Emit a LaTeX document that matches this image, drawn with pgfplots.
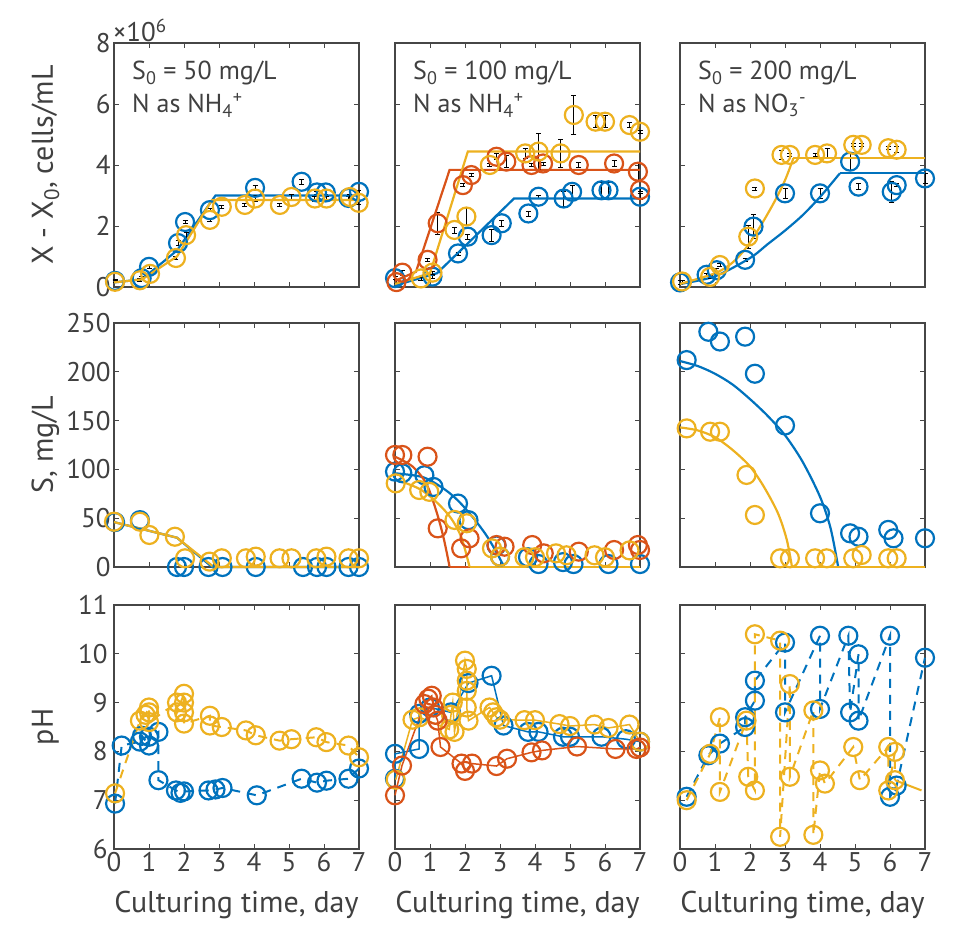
\documentclass[border=0pt]{standalone}
\usepackage{fontspec}
\setmainfont{PT Sans}
\usepackage{pgfplots}
\pgfplotsset{compat=1.18}
\definecolor{mblue}{RGB}{0,114,189}
\definecolor{mred}{RGB}{217,83,25}
\definecolor{myel}{RGB}{237,177,32}
\definecolor{axgray}{RGB}{70,70,70}
\definecolor{txtgray}{RGB}{64,64,64}
\tikzset{ptxt/.style={anchor=north west, align=left, font=\fontsize{26}{33}\selectfont, text=txtgray}}
\pgfplotsset{
  panel/.style={
    scale only axis, width=245pt, height=244pt,
    anchor=south west,
    xmin=0, xmax=7, xtick={0,1,...,7},
    axis line style={axgray, line width=1.3pt},
    tick style={axgray, line width=0.9pt},
    major tick length=5pt,
    tick align=inside,
    clip=false,
    ticklabel style={font=\fontsize{27}{29}\selectfont, text=txtgray},
    /pgf/number format/assume math mode=true,
    every axis y label/.style={at={(axis description cs:-0.28,0.5)}, rotate=90, anchor=center, font=\fontsize{30}{32}\selectfont, text=txtgray},
    every axis x label/.style={at={(axis description cs:0.5,0)}, anchor=center, yshift=-56pt, font=\fontsize{30}{32}\selectfont, text=txtgray},
  },
  mk/.style={only marks, mark=o, color=#1, mark size=9pt, mark options={line width=2.2pt, solid}},
  ebar/.style={error bars/.cd, y dir=both, y explicit, error bar style={black, line width=0.8pt, solid}, error mark options={black, rotate=90, mark size=2.5pt, line width=0.8pt}},
  fit/.style={no marks, line width=2.2pt, color=#1},
  phd/.style={mark=o, color=#1, line width=2pt, dash pattern=on 9pt off 7pt, mark size=9pt, mark options={solid, line width=2.2pt}},
  phs/.style={mark=o, color=#1, line width=1.5pt, mark size=9pt, mark options={solid, line width=2.2pt}},
}
\begin{document}
\begin{tikzpicture}
\useasboundingbox (0,0) rectangle (963pt,928pt);
% ---------------- Row 1 ----------------
\begin{axis}[panel, at={(114pt,641pt)}, ymin=0, ymax=8, ytick={0,2,4,6,8}, xticklabels={}, ylabel={X - X\textsubscript{0}, cells/mL}]
\addplot[mk=mblue, ebar] table[y error index=2] {
0.03 0.2 0.05
0.79 0.29 0.05
1.0 0.66 0.05
1.83 1.44 0.08
2.03 2.13 0.05
2.74 2.52 0.05
4.03 3.25 0.08
5.36 3.45 0.08
5.8 3.1 0.05
6.05 3.1 0.08
6.7 2.92 0.05
7.0 3.12 0.05
};
\addplot[fit=mblue] coordinates {(0,0.15) (0.8,0.25) (1.8,1.2) (2.9,3.0) (7,3.0)};
\addplot[mk=myel, ebar] table[y error index=2] {
0.03 0.17 0.03
0.74 0.22 0.05
1.03 0.43 0.05
1.77 0.95 0.05
2.06 1.7 0.1
2.74 2.2 0.05
3.08 2.63 0.05
3.74 2.69 0.05
4.03 2.9 0.1
4.74 2.69 0.05
5.07 2.95 0.1
5.74 2.9 0.08
6.07 2.9 0.08
6.74 2.95 0.08
6.99 2.76 0.05
};
\addplot[fit=myel] coordinates {(0,0.15) (0.8,0.25) (1.8,1.0) (2.8,2.85) (7,2.85)};
\node[ptxt] at (rel axis cs:0.06,0.94) {S\textsubscript{0} = 50 mg/L\\N as NH\textsubscript{4}\textsuperscript{+}};
\node[anchor=south west, font=\fontsize{27}{29}\selectfont, text=txtgray, inner sep=1pt] at (rel axis cs:-0.01,1.0) {×10\textsuperscript{6}};
\end{axis}

\begin{axis}[panel, at={(395pt,641pt)}, ymin=0, ymax=8, ytick={0,2,4,6,8}, xticklabels={}, yticklabels={}]
\addplot[mk=mblue, ebar] table[y error index=2] {
0.0 0.29 0.05
1.07 0.34 0.05
1.8 1.1 0.05
2.08 1.65 0.08
2.76 1.7 0.2
3.05 2.09 0.1
3.81 2.41 0.08
4.1 2.96 0.05
4.82 2.9 0.25
5.06 3.12 0.2
5.9 3.17 0.25
6.1 3.17 0.25
7.0 2.96 0.1
};
\addplot[fit=mblue] coordinates {(0,0.05) (1.2,0.45) (3.4,2.9) (7,2.9)};
\addplot[mk=mred, ebar] table[y error index=2] {
0.04 0.16 0.05
0.21 0.47 0.08
0.93 0.89 0.05
1.22 2.09 0.35
1.94 3.34 0.05
2.18 3.67 0.05
2.9 4.27 0.1
3.18 4.11 0.2
3.9 4.0 0.05
4.23 4.05 0.05
5.25 4.0 0.08
6.26 4.05 0.1
6.94 3.78 0.3
7.0 3.18 0.05
};
\addplot[fit=mred] coordinates {(0,0.2) (0.6,0.5) (1.56,3.84) (7,3.84)};
\addplot[mk=myel, ebar] table[y error index=2] {
0.74 0.28 0.05
1.07 0.47 0.05
1.7 1.87 0.1
2.04 2.31 0.3
2.71 4.0 0.05
3.72 4.38 0.15
4.1 4.44 0.6
4.73 4.38 0.45
5.11 5.64 0.65
5.73 5.42 0.2
6.0 5.42 0.2
6.7 5.31 0.08
7.0 5.09 0.05
};
\addplot[fit=myel] coordinates {(0,0.1) (1.0,0.45) (2.08,4.44) (7,4.44)};
\node[ptxt] at (rel axis cs:0.06,0.94) {S\textsubscript{0} = 100 mg/L\\N as NH\textsubscript{4}\textsuperscript{+}};
\end{axis}

\begin{axis}[panel, at={(680pt,641pt)}, ymin=0, ymax=8, ytick={0,2,4,6,8}, xticklabels={}, yticklabels={}]
\addplot[mk=mblue, ebar] table[y error index=2] {
0.0 0.15 0.05
0.76 0.4 0.05
1.05 0.55 0.05
1.86 0.89 0.05
2.1 1.98 0.4
3.0 3.07 0.15
4.0 3.07 0.15
4.86 4.11 0.3
5.1 3.29 0.1
6.05 3.12 0.35
6.19 3.34 0.05
7.0 3.56 0.15
};
\addplot[fit=mblue, smooth] coordinates {(0,0.1) (1,0.35) (2,0.95) (2.5,1.4) (3,1.85) (3.5,2.35) (4,2.95) (4.57,3.73)};
\addplot[fit=mblue] coordinates {(4.57,3.73) (7,3.73)};
\addplot[mk=myel, ebar] table[y error index=2] {
0.06 0.18 0.05
0.86 0.33 0.05
1.14 0.72 0.05
1.95 1.65 0.38
2.14 3.23 0.05
2.9 4.33 0.15
3.14 4.33 0.05
3.86 4.33 0.05
4.2 4.38 0.15
4.95 4.66 0.05
5.19 4.66 0.05
5.95 4.55 0.05
6.19 4.5 0.1
};
\addplot[fit=myel, smooth] coordinates {(0,0.1) (1,0.45) (1.5,0.8) (1.9,1.3) (2.3,2.0) (2.7,2.8) (3.0,3.5) (3.24,4.22)};
\addplot[fit=myel] coordinates {(3.24,4.22) (7,4.22)};
\node[ptxt] at (rel axis cs:0.06,0.94) {S\textsubscript{0} = 200 mg/L\\N as NO\textsubscript{3}\textsuperscript{-}};
\end{axis}

% ---------------- Row 2 ----------------
\begin{axis}[panel, at={(114pt,361pt)}, ymin=0, ymax=250, ytick={0,50,...,250}, xticklabels={}, ylabel={S, mg/L}]
\addplot[mk=mblue] coordinates {(0.03,46) (0.74,48) (1.8,0) (2.0,0) (2.7,0) (3.1,0) (4.05,0) (5.4,0) (5.8,0) (6.07,0) (6.7,0) (7.0,0)};
\addplot[fit=mblue] coordinates {(0,46) (1.8,30) (2.8,0) (7,0)};
\addplot[mk=myel] coordinates {(0.0,46.4) (0.74,46.4) (1.01,32.8) (1.74,31) (2.03,8.9) (2.73,5.5) (3.08,8.9) (3.77,8.9) (4.05,10.6) (4.73,8.9) (5.07,8.9) (5.78,8.9) (6.07,10.6) (6.7,8.9) (7.0,8.9)};
\addplot[fit=myel] coordinates {(0,46) (1.8,30) (2.85,0) (7,0)};
\end{axis}

\begin{axis}[panel, at={(395pt,361pt)}, ymin=0, ymax=250, ytick={0,50,...,250}, xticklabels={}, yticklabels={}]
\addplot[mk=mblue] coordinates {(0.0,97.7) (0.21,96) (0.84,94) (1.1,82) (1.8,65) (2.1,48) (2.9,22) (3.0,10.6) (3.8,10) (4.1,3) (4.8,5) (5.1,3) (6.1,3) (7.0,3)};
\addplot[fit=mblue, smooth] coordinates {(0,96) (0.8,92) (1.4,80) (1.8,68) (2.2,52) (2.6,33) (2.9,15) (3.12,0)};
\addplot[fit=mblue] coordinates {(3.12,0) (7,0)};
\addplot[mk=mred] coordinates {(0,114.8) (0.21,114.8) (0.93,113) (1.22,39.6) (1.89,19.1) (2.13,29.4) (2.9,22.5) (3.13,20.8) (3.92,22.5) (4.25,14) (5.25,15.7) (6.26,17.4) (6.94,22.5) (7.0,17.4)};
\addplot[fit=mred, smooth] coordinates {(0,113) (0.5,103) (0.9,85) (1.2,55) (1.4,28) (1.56,0)};
\addplot[fit=mred] coordinates {(1.56,0) (7,0)};
\addplot[mk=myel] coordinates {(0.02,85.7) (0.69,78.9) (0.98,77) (1.7,48.2) (2.05,44.8) (2.77,19.1) (3.0,10.6) (3.7,10) (4.0,10) (4.6,14) (4.9,12) (5.7,12) (6.0,10) (6.7,17)};
\addplot[fit=myel, smooth] coordinates {(0,90) (0.7,80) (1.2,66) (1.6,50) (1.9,30) (2.13,0)};
\addplot[fit=myel] coordinates {(2.13,0) (7,0)};
\end{axis}

\begin{axis}[panel, at={(680pt,361pt)}, ymin=0, ymax=250, ytick={0,50,...,250}, xticklabels={}, yticklabels={}]
\addplot[mk=mblue] coordinates {(0.19,212) (0.81,241) (1.14,231) (1.86,236) (2.14,198) (3.0,145) (4.0,55) (4.86,34.5) (5.1,31) (5.95,38) (6.1,29.4) (7.0,29.4)};
\addplot[fit=mblue, smooth] coordinates {(0,211) (0.5,206) (1,198) (1.5,187) (2,172) (2.5,155) (3,135) (3.5,108) (4,72) (4.3,40) (4.52,0)};
\addplot[fit=mblue] coordinates {(4.52,0) (7,0)};
\addplot[mk=myel] coordinates {(0.19,142) (0.86,138.6) (1.14,138.6) (1.9,94.3) (2.14,53.3) (2.86,8.9) (3.14,8.9) (3.86,8.9) (4.19,8.9) (4.95,8.9) (5.19,12.3) (5.95,8.9) (6.19,8.9)};
\addplot[fit=myel, smooth] coordinates {(0,143) (0.5,140) (1,133) (1.5,120) (2,103) (2.4,82) (2.8,55) (3.05,28) (3.2,0)};
\addplot[fit=myel] coordinates {(3.2,0) (7,0)};
\end{axis}

% ---------------- Row 3 ----------------
\begin{axis}[panel, at={(114pt,79pt)}, ymin=6, ymax=11, ytick={6,7,...,11}, ylabel={pH}, xlabel={Culturing time, day}, yticklabel style={xshift=-3pt}]
\addplot[phd=mblue] coordinates {(0.03,6.93) (0.22,8.12) (0.74,8.2) (0.8,8.32) (1.0,8.12) (1.0,8.3) (1.27,8.4) (1.27,7.41) (1.77,7.2) (1.9,7.15) (2.0,7.18) (2.7,7.2) (2.9,7.22) (3.1,7.25) (4.08,7.1) (5.36,7.44) (5.8,7.36) (6.07,7.4) (6.7,7.44) (7.0,7.65)};
\addplot[phd=myel] coordinates {(0.03,7.14) (0.74,8.63) (0.9,8.75) (1.0,8.9) (1.0,8.8) (1.0,8.6) (1.8,9.0) (1.8,8.8) (2.0,9.18) (2.0,9.0) (2.0,8.8) (2.0,8.57) (2.74,8.73) (2.74,8.53) (3.08,8.5) (3.77,8.43) (4.05,8.33) (4.73,8.22) (5.07,8.25) (5.78,8.29) (6.07,8.19) (6.7,8.12) (7.0,7.88)};
\end{axis}

\begin{axis}[panel, at={(395pt,79pt)}, ymin=6, ymax=11, ytick={6,7,...,11}, yticklabels={}, xlabel={Culturing time, day}]
\addplot[phs=mblue] coordinates {(0.0,7.44) (0.0,7.95) (0.69,8.05) (0.69,8.77) (1.0,8.9) (1.6,8.8) (2.1,9.4) (2.76,9.55) (3.1,8.53) (3.8,8.4) (4.1,8.4) (4.8,8.3) (5.0,8.3) (5.9,8.3) (6.6,8.25) (7.0,8.2)};
\addplot[phs=myel] coordinates {(0.02,7.42) (0.5,8.65) (0.7,8.7) (1.55,8.45) (1.6,8.75) (1.65,9.0) (1.7,8.4) (2.0,9.86) (2.05,9.69) (2.05,9.45) (2.05,9.24) (2.05,8.9) (2.1,8.63) (2.7,8.9) (2.8,8.8) (2.9,8.7) (3.0,8.65) (3.7,8.64) (4.0,8.64) (4.7,8.56) (5.0,8.52) (5.7,8.55) (6.1,8.48) (6.7,8.55) (7.0,8.2)};
\addplot[phs=mred] coordinates {(0.0,7.1) (0.2,7.71) (0.84,8.97) (0.95,9.08) (1.05,9.14) (1.1,8.9) (1.15,8.75) (1.22,8.63) (1.3,8.09) (1.9,7.75) (2.0,7.6) (2.2,7.75) (2.9,7.7) (3.2,7.85) (3.9,7.98) (4.2,8.02) (5.2,8.1) (6.3,8.05) (6.9,8.05) (7.0,8.08)};
\end{axis}

\begin{axis}[panel, at={(680pt,79pt)}, ymin=6, ymax=11, ytick={6,7,...,11}, yticklabels={}, xlabel={Culturing time, day}]
\addplot[phd=mblue] coordinates {(0.19,7.07) (0.81,7.92) (1.14,8.16) (1.86,8.5) (1.86,8.7) (2.14,9.04) (2.14,9.45) (3.0,10.23) (3.0,8.8) (4.0,10.37) (4.0,8.87) (4.81,10.37) (4.86,8.8) (5.1,9.99) (5.1,8.63) (6.0,10.37) (6.0,7.07) (6.19,7.3) (7.0,9.92)};
\addplot[phd=myel] coordinates {(0.19,7.0) (0.86,7.95) (1.14,8.7) (1.14,7.17) (1.9,8.63) (1.95,7.48) (2.14,7.2) (2.14,10.4) (2.86,10.27) (2.86,6.25) (3.14,9.38) (3.14,7.48) (3.81,8.84) (3.81,6.29) (4.0,7.61) (4.14,7.34) (4.95,8.09) (5.14,7.41) (5.95,8.09) (5.95,7.2) (6.14,7.99) (6.14,7.41)};
\addplot[no marks, myel, line width=2pt] coordinates {(6.14,7.41) (6.9,7.2)};
\end{axis}
\end{tikzpicture}
\end{document}
